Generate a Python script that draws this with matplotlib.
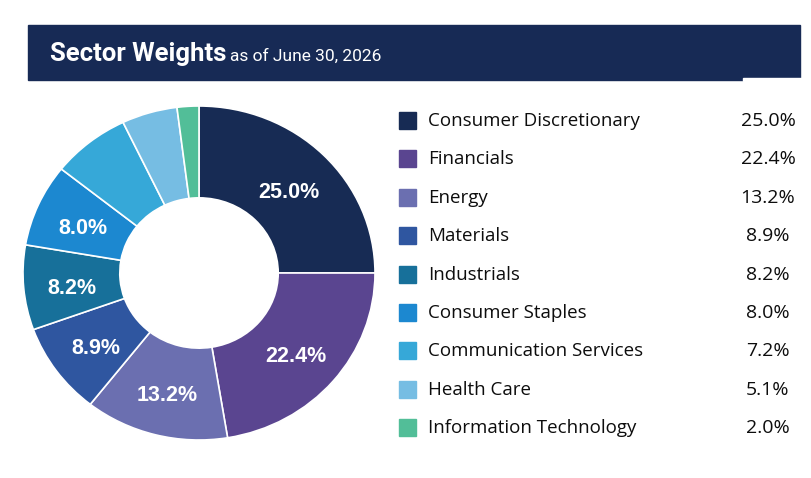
import numpy as np
import matplotlib.pyplot as plt
from matplotlib.patches import Rectangle

# data
sectors = ['Consumer Discretionary', 'Financials', 'Energy', 'Materials',
           'Industrials', 'Consumer Staples', 'Communication Services',
           'Health Care', 'Information Technology']
weights = [25.0, 22.4, 13.2, 8.9, 8.2, 8.0, 7.2, 5.1, 2.0]
colors = ['#172b54', '#5a4590', '#6b6fb0', '#2f56a0', '#17709a',
          '#1c88d0', '#36a8d8', '#76bde3', '#52be98']
show_label = [True, True, True, True, True, True, False, False, False]

W, H = 812, 478
fig = plt.figure(figsize=(W / 100, H / 100), dpi=100)


def fx(x):
    return x / W


def fy(y):
    return 1 - y / H


# title bar
fig.patches.append(Rectangle((fx(28), fy(80)), fx(772), 55 / H,
                             transform=fig.transFigure, color='#172a55', zorder=0))
fig.patches.append(Rectangle((fx(743), fy(81)), fx(60), 3 / H,
                             transform=fig.transFigure, color='white', zorder=1))
t1 = fig.text(fx(50), fy(61), 'Sector Weights', color='white', fontsize=18.5,
              fontweight='bold', family='Roboto', va='baseline')
fig.canvas.draw()
bb = t1.get_window_extent()
fig.text((bb.x1 + 4) / W, fy(61), 'as of June 30, 2026', color='white', fontsize=12.5,
         family='Roboto', va='baseline')

# donut
ax = fig.add_axes([fx(23), fy(440), 352 / W, 334 / H])
ax.pie(weights, colors=colors, startangle=90, counterclock=False, radius=1,
       wedgeprops=dict(width=0.55, edgecolor='white', linewidth=1.2))
ax.set_aspect('auto')
ax.set_xlim(-1, 1)
ax.set_ylim(-1, 1)
ax.axis('off')

start = 90.0
for w, s in zip(weights, show_label):
    mid = np.deg2rad(start - w * 3.6 / 2)
    start -= w * 3.6
    if s:
        ax.text(0.725 * np.cos(mid), 0.725 * np.sin(mid) - 0.03, f'{w:.1f}%',
                ha='center', va='center', color='white', fontsize=15.5,
                fontweight='bold', family='Liberation Sans')

# legend
row0, step = 121, 38.4
for i, (name, w, c) in enumerate(zip(sectors, weights, colors)):
    y = row0 + i * step
    fig.patches.append(Rectangle((fx(399), fy(y + 8)), 17 / W, 17 / H,
                                 transform=fig.transFigure, color=c))
    fig.text(fx(428), fy(y), name, fontsize=13.5, family='Open Sans',
             color='#0d0d0d', va='center')
    fig.text(fx(768), fy(y), f'{w:.1f}%', fontsize=14, family='Open Sans',
             color='#0d0d0d', va='center', ha='center')

fig.savefig('out.png', dpi=100)
